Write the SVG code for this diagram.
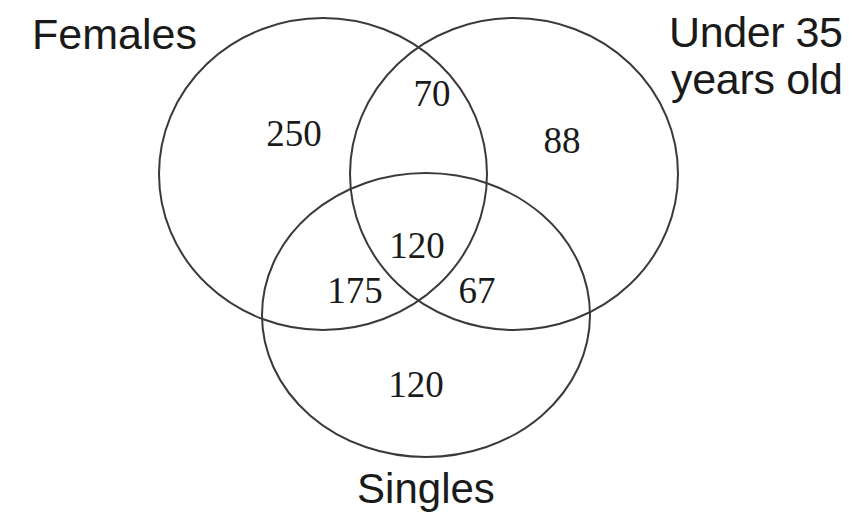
<svg xmlns="http://www.w3.org/2000/svg" width="865" height="517" viewBox="0 0 865 517">
<style>
.c{fill:none;stroke:#3a3a3a;stroke-width:2}
.lab{font-family:"Liberation Sans",Arial,sans-serif;font-size:43px;fill:#1a1a1a}
.num{font-family:"Liberation Serif","Times New Roman",serif;font-size:37px;fill:#1a1a1a;text-anchor:middle}
</style>
<rect width="865" height="517" fill="#ffffff"/>
<g id="females">
<ellipse class="c" cx="323" cy="174" rx="164" ry="156"/>
<text class="lab" x="32" y="49">Females</text>
</g>
<g id="under35">
<ellipse class="c" cx="514" cy="174" rx="164" ry="156"/>
<text class="lab" x="669" y="47" textLength="174">Under 35</text>
<text class="lab" x="671" y="94" textLength="172">years old</text>
</g>
<g id="singles">
<ellipse class="c" cx="426" cy="315" rx="164" ry="142"/>
<text class="lab" x="426" y="503" text-anchor="middle" style="font-size:42px">Singles</text>
</g>
<g id="counts">
<text class="num" x="294" y="146">250</text>
<text class="num" x="432" y="106">70</text>
<text class="num" x="562" y="153">88</text>
<text class="num" x="417" y="258">120</text>
<text class="num" x="355" y="303">175</text>
<text class="num" x="477" y="303">67</text>
<text class="num" x="416" y="397">120</text>
</g>
<g id="connectors"></g>
</svg>
